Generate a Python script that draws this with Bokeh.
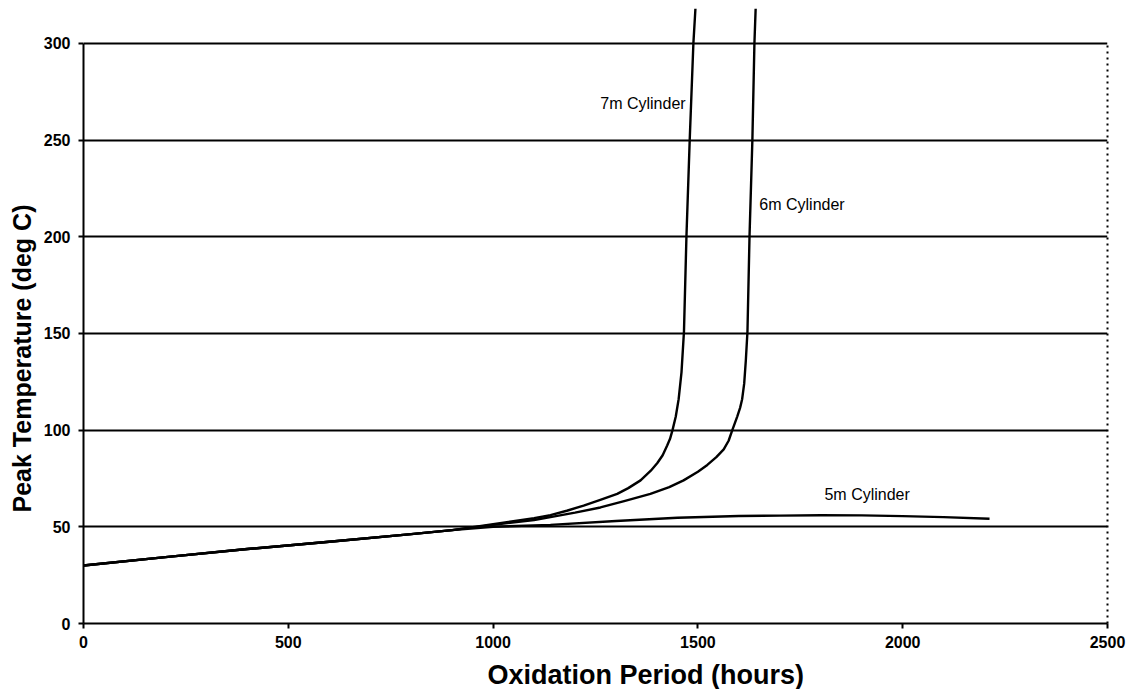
import numpy as np
from bokeh.plotting import figure
from bokeh.models import Range1d, FixedTicker, LinearAxis, Label, Title
from bokeh.embed import file_html
from bokeh.resources import INLINE

# ---- data ----
common_hours = [0, 200, 400, 600, 800, 900]
common_temp = [30, 34.3, 38.5, 42.3, 46.2, 48.3]

hours_7m = common_hours + [1000, 1100, 1140, 1180, 1221, 1260, 1303, 1330, 1360, 1385, 1401,
                           1414, 1425, 1432, 1438, 1446, 1453, 1460, 1466, 1472, 1480, 1489, 1494]
temp_7m = common_temp + [51.3, 54.5, 56, 58.3, 61, 63.8, 67, 70, 74, 79, 83,
                         87, 92, 95.5, 100, 107, 116, 130, 151, 200, 250, 300, 318]

hours_6m = common_hours + [1000, 1100, 1140, 1200, 1262, 1320, 1384, 1430, 1465, 1500, 1523,
                           1545, 1563, 1575, 1584, 1596, 1603, 1608, 1613, 1617, 1621, 1626,
                           1633, 1638, 1641]
temp_6m = common_temp + [51, 53.5, 55, 57.3, 60, 63.3, 67, 70.5, 74, 78.5, 82,
                         86, 90, 94.5, 100, 107, 111.5, 116, 124, 136, 151, 200,
                         250, 300, 318]

hours_5m = common_hours + [1000, 1140, 1300, 1450, 1600, 1700, 1800, 1900, 2000, 2100, 2212]
temp_5m = common_temp + [50, 51, 53, 54.7, 55.6, 55.8, 56, 55.9, 55.5, 55, 54.2]

x_ticks = [0, 500, 1000, 1500, 2000, 2500]
y_ticks = [0, 50, 100, 150, 200, 250, 300]
grid_values = [50, 100, 150, 200, 250, 300]

series_labels = ["7m Cylinder", "6m Cylinder", "5m Cylinder"]
label_x = [1470, 1650, 1809]
label_y = [269, 216.7, 66.7]
label_align = ["right", "left", "left"]

x_title = "Oxidation Period (hours)"
y_title = "Peak Temperature (deg C)"

FONT = "Liberation Sans"

p = figure(frame_width=1024, frame_height=615,
           x_range=Range1d(0, 2500), y_range=Range1d(0, 318),
           output_backend="svg", toolbar_location=None,
           min_border_left=83, min_border_top=8, min_border_bottom=66, min_border_right=20,
           background_fill_color="white", border_fill_color="white")
p.outline_line_color = None
p.xgrid.visible = False
p.ygrid.ticker = FixedTicker(ticks=grid_values)
p.ygrid.grid_line_color = "black"
p.ygrid.grid_line_width = 2
p.ygrid.grid_line_alpha = 1.0

for ax, ticks in ((p.xaxis[0], x_ticks), (p.yaxis[0], y_ticks)):
    ax.ticker = FixedTicker(ticks=ticks)
    ax.axis_line_color = "black"
    ax.axis_line_width = 2
    ax.major_tick_line_color = "black"
    ax.major_tick_line_width = 2
    ax.major_tick_in = 0
    ax.major_tick_out = 5
    ax.minor_tick_line_color = None
    ax.major_label_text_font = FONT
    ax.major_label_text_font_style = "bold"
    ax.major_label_text_font_size = "16px"
    ax.major_label_text_color = "black"

p.yaxis[0].bounds = (0, 300)
p.yaxis[0].major_label_standoff = 8
p.xaxis[0].major_label_standoff = 7

right = LinearAxis(bounds=(0, 300), ticker=FixedTicker(ticks=[]),
                   axis_line_color="black", axis_line_width=2, axis_line_dash="dotted",
                   major_tick_line_color=None, minor_tick_line_color=None,
                   major_label_text_font_size="0px")
p.add_layout(right, "right")

for xs, ys in ((hours_7m, temp_7m), (hours_6m, temp_6m), (hours_5m, temp_5m)):
    p.line(xs, ys, line_color="black", line_width=2.4, line_join="round")

for t, lx, ly, al in zip(series_labels, label_x, label_y, label_align):
    p.add_layout(Label(x=lx, y=ly, text=t, text_align=al, text_baseline="middle",
                       text_font=FONT, text_font_size="16px", text_color="black"))

xt = Title(text=x_title, align="left", offset=404, standoff=14, text_font=FONT,
           text_font_style="bold", text_font_size="27px", text_color="black")
p.add_layout(xt, "below")
yt = Title(text=y_title, align="left", offset=111, standoff=9, text_font=FONT,
           text_font_style="bold", text_font_size="25px", text_color="black")
p.add_layout(yt, "left")

open("out.html", "w").write(file_html(p, INLINE))
